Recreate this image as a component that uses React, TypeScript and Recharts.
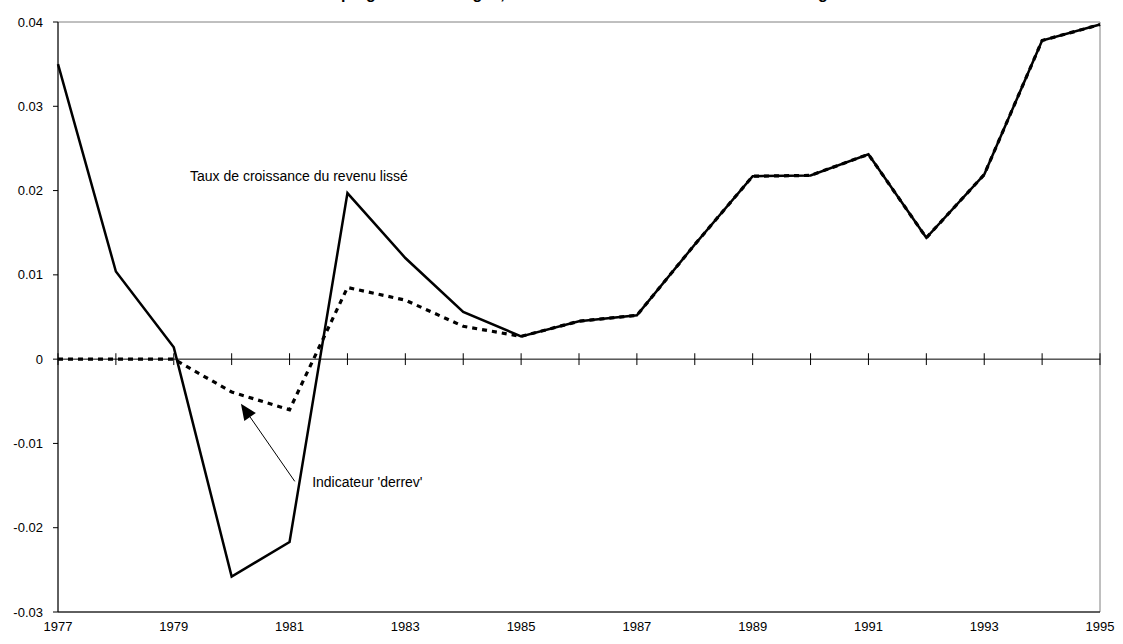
import { LineChart, Line, XAxis, YAxis, ReferenceLine, ReferenceArea, ReferenceDot } from 'recharts';

const years = [1977, 1978, 1979, 1980, 1981, 1982, 1983, 1984, 1985, 1986, 1987, 1988, 1989, 1990, 1991, 1992, 1993, 1994, 1995];
const revenuLisse = [0.035, 0.0104, 0.0014, -0.0258, -0.0217, 0.0197, 0.012, 0.0056, 0.0027, 0.0045, 0.0052, 0.0136, 0.0217, 0.0218, 0.0243, 0.0144, 0.0219, 0.0378, 0.0397];
const derrev = [0, 0, 0, -0.0039, -0.006, 0.0085, 0.007, 0.0039, 0.0027, 0.0045, 0.0052, 0.0136, 0.0217, 0.0218, 0.0243, 0.0144, 0.0219, 0.0378, 0.0397];
const yTicks = [-0.03, -0.02, -0.01, 0, 0.01, 0.02, 0.03, 0.04];
const xTicks = [1977, 1979, 1981, 1983, 1985, 1987, 1989, 1991, 1993, 1995];

const chartTitle = "Évolution du taux d'épargne des ménages, du revenu lissé et de l'indicateur de dérégulation financière";
const labelRevenu = 'Taux de croissance du revenu lissé';
const labelDerrev = "Indicateur 'derrev'";

const data = years.map((year, i) => ({ year, revenu: revenuLisse[i], derrev: derrev[i] }));

const font = 'Arial, "Liberation Sans", sans-serif';

function Arrow(props: any) {
  const { x1, y1, x2, y2 } = props;
  const ang = Math.atan2(y2 - y1, x2 - x1);
  const len = 16;
  const half = 7;
  const bx = x2 - len * Math.cos(ang);
  const by = y2 - len * Math.sin(ang);
  const px = -Math.sin(ang) * half;
  const py = Math.cos(ang) * half;
  return (
    <g>
      <line x1={x1} y1={y1} x2={bx} y2={by} stroke="#000" strokeWidth={1} />
      <polygon points={`${x2},${y2} ${bx + px},${by + py} ${bx - px},${by - py}`} fill="#000" />
    </g>
  );
}

function Label(text: string) {
  return (props: any) => (
    <text x={props.cx} y={props.cy} fontSize={14} fontFamily={font} fill="#000">
      {text}
    </text>
  );
}

export default function App() {
  return (
    <div style={{ position: 'absolute', left: 0, top: 0, width: 1123, height: 644, overflow: 'hidden', background: '#fff' }}>
      <div
        style={{
          position: 'absolute',
          top: -15,
          left: 0,
          width: 1140,
          textAlign: 'center',
          fontFamily: font,
          fontWeight: 'bold',
          fontSize: 16,
        }}
      >
        {chartTitle}
      </div>
      <LineChart width={1123} height={644} data={data} margin={{ top: 22, right: 23, bottom: 0, left: 0 }}>
        <XAxis
          dataKey="year"
          type="number"
          domain={[1977, 1995]}
          ticks={xTicks}
          tickLine={false}
          tickSize={8}
          tickMargin={2}
          height={32}
          axisLine={{ stroke: '#000' }}
          tick={{ fill: '#000', fontSize: 13, fontFamily: font }}
        />
        <YAxis
          type="number"
          domain={[-0.03, 0.04]}
          ticks={yTicks}
          width={58}
          tickSize={5}
          tickMargin={10}
          tickFormatter={(v: number) => String(Number(v.toFixed(2)))}
          axisLine={{ stroke: '#000' }}
          tickLine={{ stroke: '#000' }}
          tick={{ fill: '#000', fontSize: 13, fontFamily: font }}
        />
        <ReferenceArea x1={1977} x2={1995} y1={-0.03} y2={0.04} fill="none" stroke="#808080" strokeWidth={1} />
        <ReferenceLine y={0} stroke="#000" strokeWidth={1} />
        {years.map((y) => (
          <ReferenceLine
            key={y}
            segment={[
              { x: y, y: -0.0007 },
              { x: y, y: 0.0007 },
            ]}
            stroke="#000"
            strokeWidth={1}
          />
        ))}
        <Line
          type="linear"
          dataKey="revenu"
          stroke="#000"
          strokeWidth={2.5}
          dot={false}
          isAnimationActive={false}
        />
        <Line
          type="linear"
          dataKey="derrev"
          stroke="#000"
          strokeWidth={3.2}
          strokeDasharray="5 5"
          dot={false}
          isAnimationActive={false}
        />
        <ReferenceLine
          segment={[
            { x: 1981.09, y: -0.0145 },
            { x: 1980.16, y: -0.0053 },
          ]}
          shape={Arrow}
        />
        <ReferenceDot x={1979.28} y={0.0211} r={0} shape={Label(labelRevenu)} />
        <ReferenceDot x={1981.39} y={-0.0152} r={0} shape={Label(labelDerrev)} />
      </LineChart>
    </div>
  );
}
